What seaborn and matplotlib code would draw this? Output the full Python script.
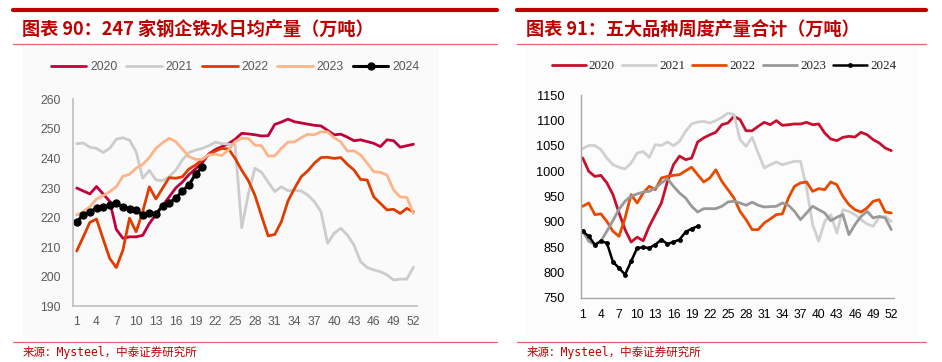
import numpy as np
import pandas as pd
import matplotlib
matplotlib.use('Agg')
import matplotlib.pyplot as plt
import seaborn as sns
from matplotlib.lines import Line2D
from matplotlib.patches import Rectangle

weeks = list(range(1, 53))
years = ['2020', '2021', '2022', '2023', '2024']

# 247 家钢企铁水日均产量（万吨）
hm_2020 = [230.0, 229.0, 228.0, 230.5, 228.0, 225.5, 216.0, 213.0, 213.5, 213.5,
           214.0, 218.0, 221.0, 224.0, 227.0, 230.0, 232.0, 234.5, 236.5, 238.5,
           241.5, 243.0, 244.0, 245.0, 246.5, 248.5, 248.3, 248.0, 247.6, 247.7,
           251.5, 252.3, 253.3, 252.4, 252.0, 251.6, 251.2, 251.0, 249.5, 248.0,
           248.2, 247.2, 246.0, 246.3, 245.7, 245.1, 244.0, 246.3, 246.0, 243.8,
           244.3, 244.8]
hm_2021 = [245.0, 245.2, 243.8, 243.4, 242.0, 243.4, 246.5, 247.0, 246.2, 242.3,
           233.3, 236.0, 232.7, 232.5, 233.8, 236.0, 239.5, 242.0, 242.8, 243.4,
           244.3, 245.5, 245.0, 244.8, 244.5, 216.6, 228.0, 236.7, 235.3, 232.0,
           228.8, 230.4, 229.1, 229.2, 229.0, 227.6, 225.4, 222.0, 211.3, 214.7,
           216.4, 214.1, 210.7, 205.1, 203.1, 202.3, 201.7, 200.6, 198.9, 199.2,
           199.2, 203.2]
hm_2022 = [208.7, 213.5, 218.4, 219.5, 212.8, 206.2, 203.1, 209.0, 219.8, 215.2,
           222.0, 230.4, 226.3, 229.9, 233.5, 233.3, 233.8, 236.4, 237.8, 239.5,
           241.2, 242.5, 243.4, 243.2, 240.0, 236.0, 232.5, 227.5, 220.6, 213.8,
           214.3, 218.6, 225.6, 229.9, 233.8, 235.8, 238.4, 240.3, 240.4, 240.0,
           240.3, 238.0, 236.1, 232.9, 232.7, 227.0, 224.8, 222.6, 222.8, 221.4,
           223.1, 222.0]
hm_2023 = [220.9, 222.0, 223.7, 226.3, 227.4, 228.8, 230.4, 234.0, 234.6, 236.7,
           238.0, 240.3, 243.4, 245.3, 246.8, 245.7, 243.2, 240.6, 239.7, 239.7,
           241.2, 241.4, 241.0, 242.9, 245.7, 246.8, 246.8, 244.5, 244.3, 240.8,
           240.9, 243.4, 245.5, 245.6, 247.0, 248.2, 248.0, 249.0, 249.0, 247.0,
           245.6, 242.5, 242.6, 241.2, 238.4, 235.5, 235.3, 234.4, 229.3, 227.0,
           226.8, 221.4]
hm_2024 = [218.5, 221.0, 222.0, 223.2, 223.5, 224.2, 224.8, 223.5, 223.0, 222.5,
           220.8, 221.7, 221.3, 223.8, 225.0, 226.5, 229.0, 231.0, 234.7, 237.0]

# 五大品种周度产量合计（万吨）
out_2020 = [1026.3, 1000, 990, 992, 977, 954, 918, 885, 860.5, 870,
            863, 891.5, 914.5, 937.5, 980, 1013, 1030, 1023, 1026, 1058,
            1066, 1072, 1077, 1092, 1095.4, 1108.5, 1102, 1080, 1080, 1088.8,
            1096.7, 1092, 1100, 1090.7, 1092, 1093.4, 1093.4, 1096.7, 1092, 1093.4,
            1075.6, 1063.8, 1060.5, 1067, 1069, 1067.7, 1077, 1072.3, 1062.5, 1056,
            1046, 1040.8]
out_2021 = [1044.7, 1051, 1051, 1043, 1026, 1013, 1008, 1004.6, 1016.4, 1036,
            1039, 1027.6, 1052.6, 1051, 1058, 1050.6, 1059, 1079, 1093.4, 1097.3,
            1098.6, 1095.3, 1100, 1106.5, 1115, 1112, 1062.5, 1049.3, 1067, 1036,
            1006.6, 1013, 1018.4, 1013, 1016.4, 1019.7, 1019.7, 967, 894.8, 862,
            901.3, 914.5, 878.3, 924.3, 921, 914.5, 904.6, 896, 891.5, 909.2,
            911, 901]
out_2022 = [931, 937.5, 914.5, 916, 901, 881.6, 871.7, 908, 954, 937.5,
            957.2, 970.4, 963.8, 986.8, 990, 992, 993.4, 1001, 1008, 993.4,
            979, 986.8, 1003, 980, 963.8, 947.4, 921, 904.6, 885, 885,
            898, 906, 914.5, 916, 947.4, 970.4, 977, 979, 960.5, 965.8,
            963.8, 979, 973.7, 950.7, 934.2, 924.3, 919.7, 927.6, 940.8, 944,
            919.7, 917.8]
out_2023 = [882, 862, 855, 862, 882, 903, 925, 941, 951, 955.3,
            959.2, 960.5, 967, 977, 985.5, 970.4, 957.2, 947.4, 931, 919.7,
            926.3, 926.3, 926.3, 931, 939.5, 941, 937.5, 933, 939, 933,
            929.6, 930.3, 931, 937.5, 933, 921, 904.6, 917.8, 931, 924.3,
            917.8, 902.6, 909.2, 914.5, 875, 894.8, 911, 921, 908, 911,
            908, 885]
out_2024 = [881.6, 871.7, 855.3, 861.9, 858.6, 821, 809.2, 796.1, 822.4, 848.7,
            850, 848.7, 855.3, 865.2, 856.6, 860.5, 865.2, 880.3, 886.8, 891.5]

W, H = 942, 362
RED = '#c00000'
LINE_RED = '#e06666'

sns.set_style('white')
plt.rcParams['font.family'] = ['Liberation Sans', 'Noto Sans CJK SC', 'DejaVu Sans']
cjk = ['Noto Sans CJK SC', 'DejaVu Sans']


def fx(px):
    return px / W


def fy(py):
    return 1 - py / H


def add_axes(x0, x1, y_top, y_bot):
    return fig.add_axes([fx(x0), fy(y_bot), fx(x1 - x0), (y_bot - y_top) / H])


def frame(x0, x1, x_src, title):
    # heavy bar, title, thin rules and source line of each panel
    fig.add_artist(Line2D([fx(x0), fx(x1)], [fy(10), fy(10)], color=RED, lw=3))
    fig.add_artist(Line2D([fx(x0), fx(x1)], [fy(43.5), fy(43.5)], color=LINE_RED, lw=0.9))
    fig.add_artist(Line2D([fx(x0), fx(x1)], [fy(342), fy(342)], color=LINE_RED, lw=0.9))
    fig.text(fx(x_src), fy(30), title, color=RED, fontsize=13.1, fontweight='bold',
             fontstyle='italic', family=cjk, ha='left', va='center')
    fig.text(fx(x_src + 1), fy(352), '来源：Mysteel，中泰证券研究所', color=RED, fontsize=8.3,
             family=['DejaVu Sans Mono', 'Noto Sans CJK SC'], ha='left', va='center')


fig = plt.figure(figsize=(W / 100, H / 100), dpi=100)

fig.add_artist(Rectangle((fx(23), fy(338)), fx(439 - 23), (338 - 48) / H,
                         facecolor='#fafafa', edgecolor='none', zorder=0))
fig.add_artist(Rectangle((fx(527), fy(338)), fx(918 - 527), (338 - 48) / H,
                         facecolor='#fcfcfc', edgecolor='none', zorder=0))

frame(13, 497, 22, '图表 90：247 家钢企铁水日均产量（万吨）')
frame(517, 926, 526, '图表 91：五大品种周度产量合计（万吨）')

# ---- left panel ----
ax1 = add_axes(73.4, 416.7, 99.3, 306.3)
ax1.set_facecolor('none')
left_series = [hm_2020, hm_2021, hm_2022, hm_2023, hm_2024]
left_colors = ['#c0003a', '#cccccc', '#e03c00', '#fdb488', '#000000']
for yr, vals, c in zip(years, left_series, left_colors):
    df = pd.DataFrame({'week': weeks[:len(vals)], 'value': vals})
    if yr == '2024':
        sns.lineplot(data=df, x='week', y='value', ax=ax1, color=c, lw=2.2, label=yr,
                     marker='o', markersize=6, markeredgewidth=0)
    else:
        sns.lineplot(data=df, x='week', y='value', ax=ax1, color=c, lw=2.0, label=yr)

ax1.set_xlim(0.5, 52.5)
ax1.set_ylim(190, 260)
ax1.set_yticks(range(190, 261, 10))
ax1.set_xticks(range(1, 53, 3))
ax1.set_xticks(np.arange(0.5, 52, 3), minor=True)
ax1.tick_params(axis='x', which='major', length=0, pad=7, labelsize=8.7, labelcolor='#595959')
ax1.tick_params(axis='x', which='minor', length=4, width=1, color='#bfbfbf', direction='out')
ax1.tick_params(axis='y', length=4, width=1, color='#bfbfbf', direction='out', pad=5,
                labelsize=8.7, labelcolor='#595959')
ax1.set_xlabel('')
ax1.set_ylabel('')
for s in ['top', 'right']:
    ax1.spines[s].set_visible(False)
for s in ['left', 'bottom']:
    ax1.spines[s].set_color('#bfbfbf')
    ax1.spines[s].set_linewidth(1.2)
h, l = ax1.get_legend_handles_labels()
ax1.legend(h, l, loc='center', bbox_to_anchor=(fx(235), fy(67)), bbox_transform=fig.transFigure,
           ncol=5, frameon=False, fontsize=8.7, handlelength=2.95, handletextpad=0.3,
           columnspacing=0.75, labelcolor='#595959', borderpad=0)

# ---- right panel ----
ax2 = add_axes(580.9, 894.3, 95.3, 298)
ax2.set_facecolor('none')
right_series = [out_2020, out_2021, out_2022, out_2023, out_2024]
right_colors = ['#c8102e', '#d0d0d0', '#e84a00', '#999999', '#000000']
for yr, vals, c in zip(years, right_series, right_colors):
    df = pd.DataFrame({'week': weeks[:len(vals)], 'value': vals})
    if yr == '2024':
        sns.lineplot(data=df, x='week', y='value', ax=ax2, color=c, lw=1.8, label=yr,
                     marker='o', markersize=3.5, markeredgewidth=0)
    else:
        sns.lineplot(data=df, x='week', y='value', ax=ax2, color=c, lw=2.0, label=yr)

ax2.set_xlim(0.7, 52.5)
ax2.set_ylim(750, 1150)
ax2.set_yticks(range(750, 1151, 50))
ax2.set_xticks(range(1, 53, 3))
ax2.set_xticks(range(1, 53, 5), minor=True)
ax2.tick_params(axis='x', which='major', length=0, pad=8, labelsize=8.7, labelcolor='#000000')
ax2.tick_params(axis='x', which='minor', length=3.3, width=1, color='#a6a6a6', direction='out')
ax2.tick_params(axis='y', length=3.3, width=1, color='#a6a6a6', direction='out', pad=8.4,
                labelsize=9.2, labelcolor='#000000')
ax2.set_xlabel('')
ax2.set_ylabel('')
for s in ['top', 'right']:
    ax2.spines[s].set_visible(False)
for s in ['left', 'bottom']:
    ax2.spines[s].set_color('#a6a6a6')
    ax2.spines[s].set_linewidth(1.0)
h, l = ax2.get_legend_handles_labels()
ax2.legend(h, l, loc='center', bbox_to_anchor=(fx(724), fy(66)), bbox_transform=fig.transFigure,
           ncol=5, frameon=False, prop={'family': 'Liberation Serif', 'size': 9.4},
           handlelength=2.6, handletextpad=0.25, columnspacing=0.55, borderpad=0)

fig.savefig('out.png', dpi=100)
plt.close(fig)
